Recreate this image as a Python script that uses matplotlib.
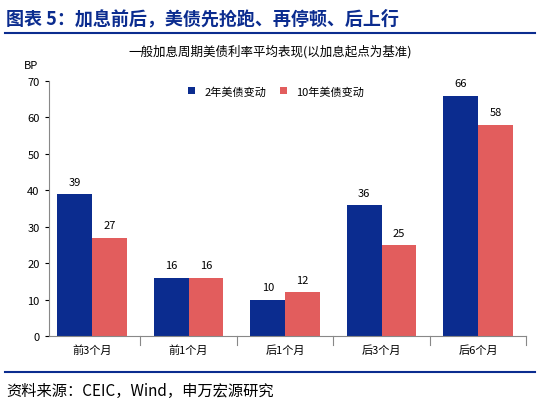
import matplotlib
matplotlib.use("Agg")
import matplotlib.pyplot as plt
import numpy as np

plt.rcParams['font.family'] = ['Noto Sans CJK SC', 'DejaVu Sans']

categories = ['前3个月', '前1个月', '后1个月', '后3个月', '后6个月']
y2 = [39, 16, 10, 36, 66]
y10 = [27, 16, 12, 25, 58]
yticks = [0, 10, 20, 30, 40, 50, 60, 70]

fig = plt.figure(figsize=(5.4, 4.1), dpi=100)
ax = fig.add_axes([0.09, 0.178, 0.885, 0.622])
x = np.arange(len(categories))
w = 0.36
c1, c2 = '#0B2C8F', '#E25D5D'
b1 = ax.bar(x - w/2, y2, w, color=c1, label='2年美债变动')
b2 = ax.bar(x + w/2, y10, w, color=c2, label='10年美债变动')
for bars, vals in ((b1, y2), (b2, y10)):
    for r, v in zip(bars, vals):
        ax.text(r.get_x() + r.get_width()/2, v + 2, str(v), ha='center', va='bottom', fontsize=8)
ax.set_ylim(0, 70)
ax.set_yticks(yticks)
ax.set_xlim(-0.45, 4.5)
ax.set_xticks(x)
ax.set_xticklabels(categories, fontsize=8)
ax.tick_params(axis='y', labelsize=8, length=3)
ax.tick_params(axis='x', length=0, pad=6)
for xb in np.arange(0.5, 5, 1):
    ax.plot([xb, xb], [0, -2.5], color='#888888', lw=0.8, clip_on=False)
for s in ('top', 'right'):
    ax.spines[s].set_visible(False)
ax.spines['left'].set_color('#888888')
ax.spines['bottom'].set_color('#888888')
ax.legend(loc='upper left', bbox_to_anchor=(0.27, 1.02), ncol=2, frameon=False, fontsize=8,
          handlelength=0.7, handleheight=0.7, columnspacing=1.2)

fig.text(0.012, 0.955, '图表 5：加息前后，美债先抢跑、再停顿、后上行', fontsize=13,
         fontweight='bold', color='#0B2C8F', va='center')
fig.add_artist(plt.Line2D([0.01, 0.99], [0.918, 0.918], color='#0B2C8F', lw=1.5))
fig.text(0.5, 0.875, '一般加息周期美债利率平均表现(以加息起点为基准)', fontsize=9, ha='center', va='center')
fig.text(0.045, 0.84, 'BP', fontsize=8, va='center')
fig.add_artist(plt.Line2D([0.01, 0.99], [0.09, 0.09], color='#0B2C8F', lw=1.5))
fig.text(0.012, 0.045, '资料来源：CEIC，Wind，申万宏源研究', fontsize=11, va='center')
fig.savefig('out.png', dpi=100)
